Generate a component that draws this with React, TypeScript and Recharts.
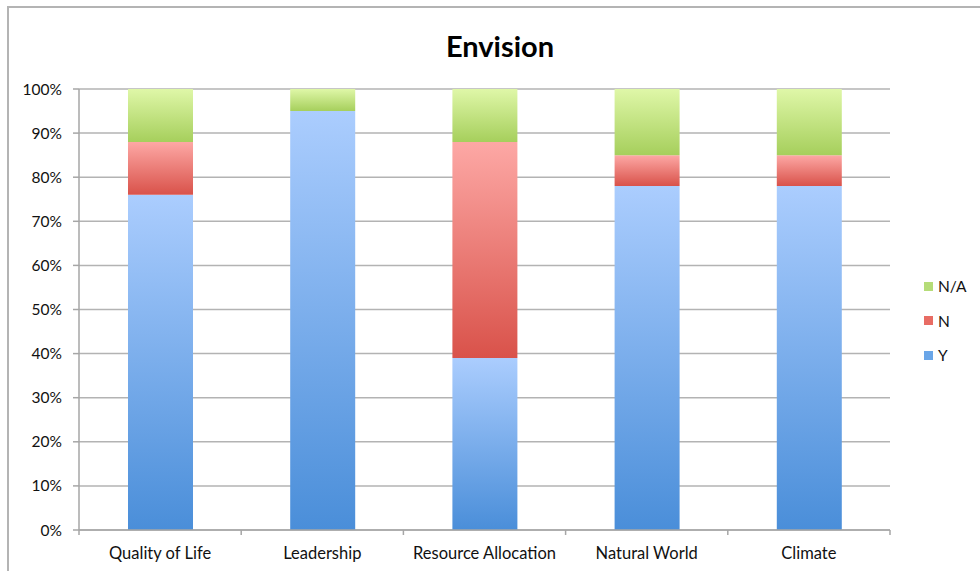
import { BarChart, Bar, XAxis, YAxis, CartesianGrid } from "recharts"

const categories = ["Quality of Life", "Leadership", "Resource Allocation", "Natural World", "Climate"]
const yesValues = [76, 95, 39, 78, 78]
const noValues = [12, 0, 49, 7, 7]
const naValues = [12, 5, 12, 15, 15]
const yTicks = [0, 10, 20, 30, 40, 50, 60, 70, 80, 90, 100]

const data = categories.map((category, i) => ({
  category,
  Y: yesValues[i],
  N: noValues[i],
  NA: naValues[i],
}))

const FONT = "Lato, 'Open Sans', sans-serif"
const AXIS_GRAY = "#a6a6a6"
const TICK_SIZE = 6
const TICK_MARGIN = 11

const legendItems = [
  { label: "N/A", color: "#b5dc78" },
  { label: "N", color: "#e86c64" },
  { label: "Y", color: "#6aa6e8" },
]

// category label plus tick marks at the band edges (Excel style)
function CategoryTick(props: any) {
  const { x, y, payload, index, visibleTicksCount } = props
  const half = payload.offset || 0
  const axisY = y - TICK_SIZE - TICK_MARGIN
  const isLast = index === visibleTicksCount - 1
  return (
    <g>
      <line x1={x - half} x2={x - half} y1={axisY} y2={axisY + 5} stroke={AXIS_GRAY} strokeWidth={1.5} />
      {isLast && <line x1={x + half} x2={x + half} y1={axisY} y2={axisY + 5} stroke={AXIS_GRAY} strokeWidth={1.5} />}
      <text x={x} y={y} dy="0.71em" textAnchor="middle" fontSize={16.5} fill="#111" fontFamily={FONT}>
        {payload.value}
      </text>
    </g>
  )
}

export default function App() {
  return (
    <div style={{ position: "absolute", left: 0, top: 0, width: 980, height: 571, background: "#fff", overflow: "hidden" }}>
      <div
        style={{
          position: "absolute",
          left: 7,
          top: 6,
          width: 990,
          height: 580,
          borderTop: "2px solid #b4b4b4",
          borderLeft: "2px solid #b4b4b4",
        }}
      />
      <div
        style={{
          position: "absolute",
          left: 0,
          width: 1000,
          top: 28,
          textAlign: "center",
          fontFamily: FONT,
          fontWeight: 700,
          fontSize: 29,
          color: "#000",
        }}
      >
        Envision
      </div>
      <div style={{ position: "absolute", left: 0, top: 0 }}>
        <BarChart width={980} height={571} data={data} margin={{ top: 89, right: 90, left: 0, bottom: 11 }} barSize={65}>
          <defs>
            <linearGradient id="gradY" x1="0" y1="0" x2="0" y2="1">
              <stop offset="0%" stopColor="#abcdfe" />
              <stop offset="100%" stopColor="#4a8ed9" />
            </linearGradient>
            <linearGradient id="gradN" x1="0" y1="0" x2="0" y2="1">
              <stop offset="0%" stopColor="#fda8a5" />
              <stop offset="100%" stopColor="#d9524a" />
            </linearGradient>
            <linearGradient id="gradNA" x1="0" y1="0" x2="0" y2="1">
              <stop offset="0%" stopColor="#dff7a8" />
              <stop offset="100%" stopColor="#a6cf5c" />
            </linearGradient>
          </defs>
          <CartesianGrid vertical={false} stroke="#b3b3b3" strokeWidth={1.5} />
          <XAxis
            dataKey="category"
            interval={0}
            axisLine={{ stroke: AXIS_GRAY, strokeWidth: 1.5 }}
            tickLine={false}
            tickSize={TICK_SIZE}
            tickMargin={TICK_MARGIN}
            tick={<CategoryTick />}
          />
          <YAxis
            width={79}
            domain={[0, 100]}
            ticks={yTicks}
            interval={0}
            tickFormatter={(v) => `${v}%`}
            axisLine={{ stroke: AXIS_GRAY, strokeWidth: 1.5 }}
            tickLine={{ stroke: AXIS_GRAY, strokeWidth: 1.5 }}
            tickSize={6}
            tickMargin={11}
            tick={{ fontSize: 15.5, fill: "#111", fontFamily: FONT }}
          />
          <Bar dataKey="Y" stackId="a" fill="url(#gradY)" isAnimationActive={false} />
          <Bar dataKey="N" stackId="a" fill="url(#gradN)" isAnimationActive={false} />
          <Bar dataKey="NA" stackId="a" fill="url(#gradNA)" isAnimationActive={false} />
        </BarChart>
      </div>
      {legendItems.map((item, i) => (
        <div
          key={item.label}
          style={{
            position: "absolute",
            left: 924,
            top: 277 + i * 34.5,
            display: "flex",
            alignItems: "center",
            fontFamily: FONT,
            fontSize: 15.5,
            color: "#111",
          }}
        >
          <span style={{ display: "inline-block", width: 9, height: 9, background: item.color, marginRight: 5 }} />
          {item.label}
        </div>
      ))}
    </div>
  )
}
